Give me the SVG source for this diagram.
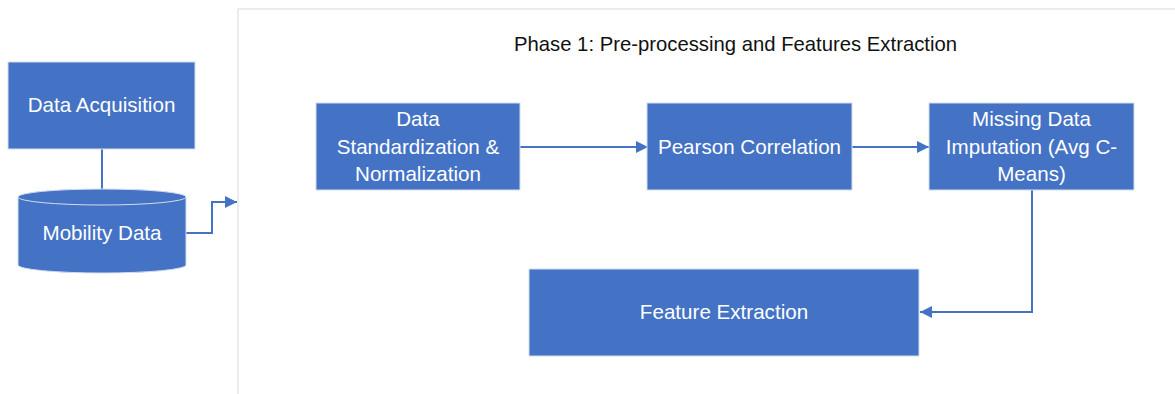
<svg xmlns="http://www.w3.org/2000/svg" width="1175" height="394" viewBox="0 0 1175 394">
<style>
.box{fill:#4472C4;stroke:#d4dcee;stroke-width:1}
.lbl{font-family:"Liberation Sans",Arial,sans-serif;font-size:20.6px;fill:#ffffff;text-anchor:middle}
.title{font-family:"Liberation Sans",Arial,sans-serif;font-size:20.3px;fill:#111111;text-anchor:middle}
.conn{fill:none;stroke:#4472C4;stroke-width:2}
</style>
<defs>
<marker id="arr" markerUnits="userSpaceOnUse" markerWidth="13" markerHeight="13" refX="12" refY="6" orient="auto">
<path d="M0,0 L12,6 L0,12 Z" fill="#4472C4"/>
</marker>
</defs>
<rect width="1175" height="394" fill="#ffffff"/>
<g id="frame">
<path d="M238,394 V9 H1175" fill="none" stroke="#ececec" stroke-width="2"/>
<text class="title" x="735.5" y="51">Phase 1: Pre-processing and Features Extraction</text>
</g>
<g id="connectors">
<path class="conn" d="M102,149 V190"/>
<path class="conn" d="M186,233 H212 V202 H237" marker-end="url(#arr)"/>
<path class="conn" d="M520,147 H648" marker-end="url(#arr)"/>
<path class="conn" d="M852,147 H929" marker-end="url(#arr)"/>
<path class="conn" d="M1032,190 V312 H920" marker-end="url(#arr)"/>
</g>
<g id="data-acquisition">
<rect class="box" x="8" y="62" width="187" height="87"/>
<text class="lbl" x="101.5" y="112">Data Acquisition</text>
</g>
<g id="mobility-data">
<path d="M18,197 A84,8 0 0 1 186,197 V265 A84,8 0 0 1 18,265 Z" fill="#4472C4" stroke="#d4dcee" stroke-width="1"/>
<path d="M18,197 A84,8 0 0 0 186,197" fill="none" stroke="#d4dcee" stroke-width="1"/>
<text class="lbl" x="102" y="240">Mobility Data</text>
</g>
<g id="standardization">
<rect class="box" x="316" y="103" width="204" height="87"/>
<text class="lbl" x="418" y="126">Data</text>
<text class="lbl" x="418" y="154">Standardization &amp;</text>
<text class="lbl" x="418" y="181">Normalization</text>
</g>
<g id="pearson">
<rect class="box" x="647" y="103" width="205" height="87"/>
<text class="lbl" x="749.5" y="154">Pearson Correlation</text>
</g>
<g id="imputation">
<rect class="box" x="929" y="103" width="205" height="87"/>
<text class="lbl" x="1031.5" y="126">Missing Data</text>
<text class="lbl" x="1031.5" y="154">Imputation (Avg C-</text>
<text class="lbl" x="1031.5" y="181">Means)</text>
</g>
<g id="feature-extraction">
<rect class="box" x="529" y="269" width="390" height="87"/>
<text class="lbl" x="724" y="319">Feature Extraction</text>
</g>
</svg>
